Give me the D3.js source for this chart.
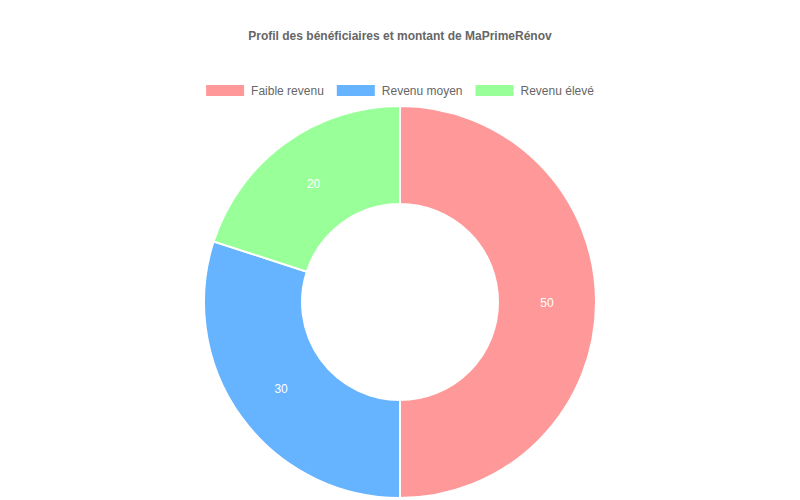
<!DOCTYPE html>
<html><head><meta charset="utf-8">
<script src="https://cdn.jsdelivr.net/npm/d3@7"></script>
<style>body{margin:0;background:#fff}svg{display:block}text{font-family:"Liberation Sans",Arial,Helvetica,sans-serif}</style>
</head><body>
<svg id="c" width="800" height="500"></svg>
<script>
const categories = ["Faible revenu", "Revenu moyen", "Revenu élevé"];
const values = [50, 30, 20];
const colors = ["#FF9999", "#66B3FF", "#99FF99"];
const title = "Profil des bénéficiaires et montant de MaPrimeRénov";

const svg = d3.select("#c");
const W = 800, cx = 400, cy = 302, outerR = 196, innerR = 98;

svg.append("text").attr("x", W/2).attr("y", 40).attr("text-anchor", "middle")
  .attr("font-size", 12).attr("font-weight", "bold").attr("fill", "#666").text(title);

// legend
const boxW = 38, boxH = 11, gap = 7, itemGap = 13;
const ctx = document.createElement("canvas").getContext("2d");
ctx.font = '12px "Liberation Sans", Arial, sans-serif';
const widths = categories.map(c => boxW + gap + ctx.measureText(c).width);
const total = d3.sum(widths) + itemGap * (categories.length - 1);
let lx = W/2 - total/2;
const lg = svg.append("g");
categories.forEach((c, i) => {
  const g = lg.append("g").attr("transform", `translate(${lx},0)`);
  g.append("rect").attr("x", 0).attr("y", 85).attr("width", boxW).attr("height", boxH).attr("fill", colors[i]);
  g.append("text").attr("x", boxW + gap).attr("y", 94.5).attr("font-size", 12).attr("fill", "#666").text(c);
  lx += widths[i] + itemGap;
});

const pie = d3.pie().sort(null).value(d => d)(values);
const arc = d3.arc().innerRadius(innerR).outerRadius(outerR);
const g = svg.append("g").attr("transform", `translate(${cx},${cy})`);
g.selectAll("path").data(pie).join("path").attr("d", arc)
  .attr("fill", (d, i) => colors[i]).attr("stroke", "#fff").attr("stroke-width", 2);
const lab = d3.arc().innerRadius((innerR + outerR)/2).outerRadius((innerR + outerR)/2);
g.selectAll("text.v").data(pie).join("text").attr("class", "v")
  .attr("transform", d => `translate(${lab.centroid(d)})`)
  .attr("text-anchor", "middle").attr("dy", "0.4em")
  .attr("font-size", 12).attr("fill", "#fff").text(d => d.data);
</script>
</body></html>
